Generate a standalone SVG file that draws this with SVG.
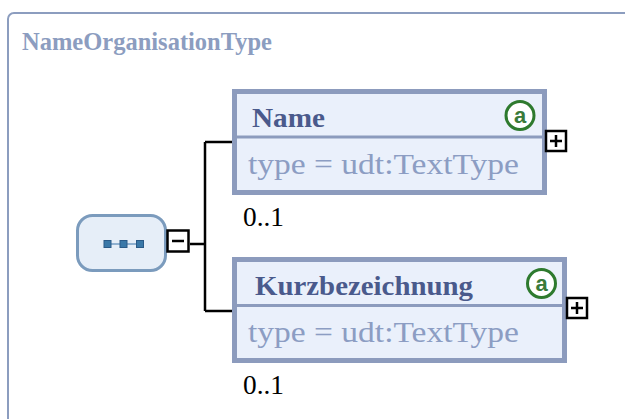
<svg xmlns="http://www.w3.org/2000/svg" width="625" height="419" viewBox="0 0 625 419">
<defs>
<style>
.frame{fill:#ffffff;stroke:#8c9dbf;stroke-width:2}
.title{font-family:"Liberation Serif",serif;font-weight:bold;font-size:26px;fill:#8c9dc0}
.box{fill:#eaf0fb;stroke:#8c9bbd;stroke-width:5}
.sep{stroke:#8c9bbd;stroke-width:3}
.ename{font-family:"Liberation Serif",serif;font-weight:bold;font-size:28px;fill:#4a5a8c}
.etype{font-family:"Liberation Serif",serif;font-size:30px;fill:#8c9dc3}
.occ{font-family:"Liberation Serif",serif;font-size:27px;fill:#000}
.conn{fill:none;stroke:#000;stroke-width:2.5}
.tog{fill:#fff;stroke:#000;stroke-width:2.5}
.togs{stroke:#000;stroke-width:2.5}
.attr{fill:#ffffff;stroke:#2e7a2e;stroke-width:3}
.attrt{font-family:"Liberation Sans",sans-serif;font-weight:bold;font-size:22px;fill:#3a7a3a;text-anchor:middle}
.seq{fill:#e6eef8;stroke:#7b9bbd;stroke-width:3}
.sq{fill:#3a78a8;stroke:#2a5a88;stroke-width:1}
</style>
</defs>
<rect class="frame" x="8" y="13" width="720" height="520" rx="6"/>
<text class="title" x="22" y="50" textLength="250" lengthAdjust="spacingAndGlyphs">NameOrganisationType</text>
<g id="connectors">
<path class="conn" d="M190,244 H205 M205,142 V311 M205,142 H232 M205,311 H232"/>
</g>
<g id="sequence">
<rect class="seq" x="77.5" y="215.5" width="88" height="55" rx="15"/>
<line x1="107" y1="244" x2="141" y2="244" stroke="#8fb0d0" stroke-width="2"/>
<rect class="sq" x="104" y="240.5" width="7" height="7"/>
<rect class="sq" x="120" y="240.5" width="7" height="7"/>
<rect class="sq" x="136.5" y="240.5" width="7" height="7"/>
<rect class="tog" x="167.5" y="230.5" width="21" height="21"/>
<line class="togs" x1="172" y1="241" x2="184" y2="241"/>
</g>
<g id="name">
<rect class="box" x="234.5" y="91.5" width="310" height="101"/>
<line class="sep" x1="237" y1="137" x2="542" y2="137"/>
<text class="ename" x="252" y="127" textLength="73" lengthAdjust="spacingAndGlyphs">Name</text>
<circle class="attr" cx="520" cy="115.5" r="14"/>
<text class="attrt" x="520" y="123">a</text>
<text class="etype" x="248" y="174" textLength="271" lengthAdjust="spacingAndGlyphs">type = udt:TextType</text>
<text class="occ" x="243" y="226" textLength="41" lengthAdjust="spacingAndGlyphs">0..1</text>
<rect class="tog" x="546" y="131" width="20" height="20"/>
<path class="togs" d="M550,141 H562 M556,135 V147"/>
</g>
<g id="kurzbezeichnung">
<rect class="box" x="234.5" y="259.5" width="330" height="101"/>
<line class="sep" x1="237" y1="305.5" x2="562" y2="305.5"/>
<text class="ename" x="255" y="295" textLength="218" lengthAdjust="spacingAndGlyphs">Kurzbezeichnung</text>
<circle class="attr" cx="541.5" cy="283.5" r="14"/>
<text class="attrt" x="541.5" y="291">a</text>
<text class="etype" x="248" y="342" textLength="271" lengthAdjust="spacingAndGlyphs">type = udt:TextType</text>
<text class="occ" x="243" y="394" textLength="41" lengthAdjust="spacingAndGlyphs">0..1</text>
<rect class="tog" x="567" y="298" width="20" height="20"/>
<path class="togs" d="M571,308 H583 M577,302 V314"/>
</g>
</svg>
